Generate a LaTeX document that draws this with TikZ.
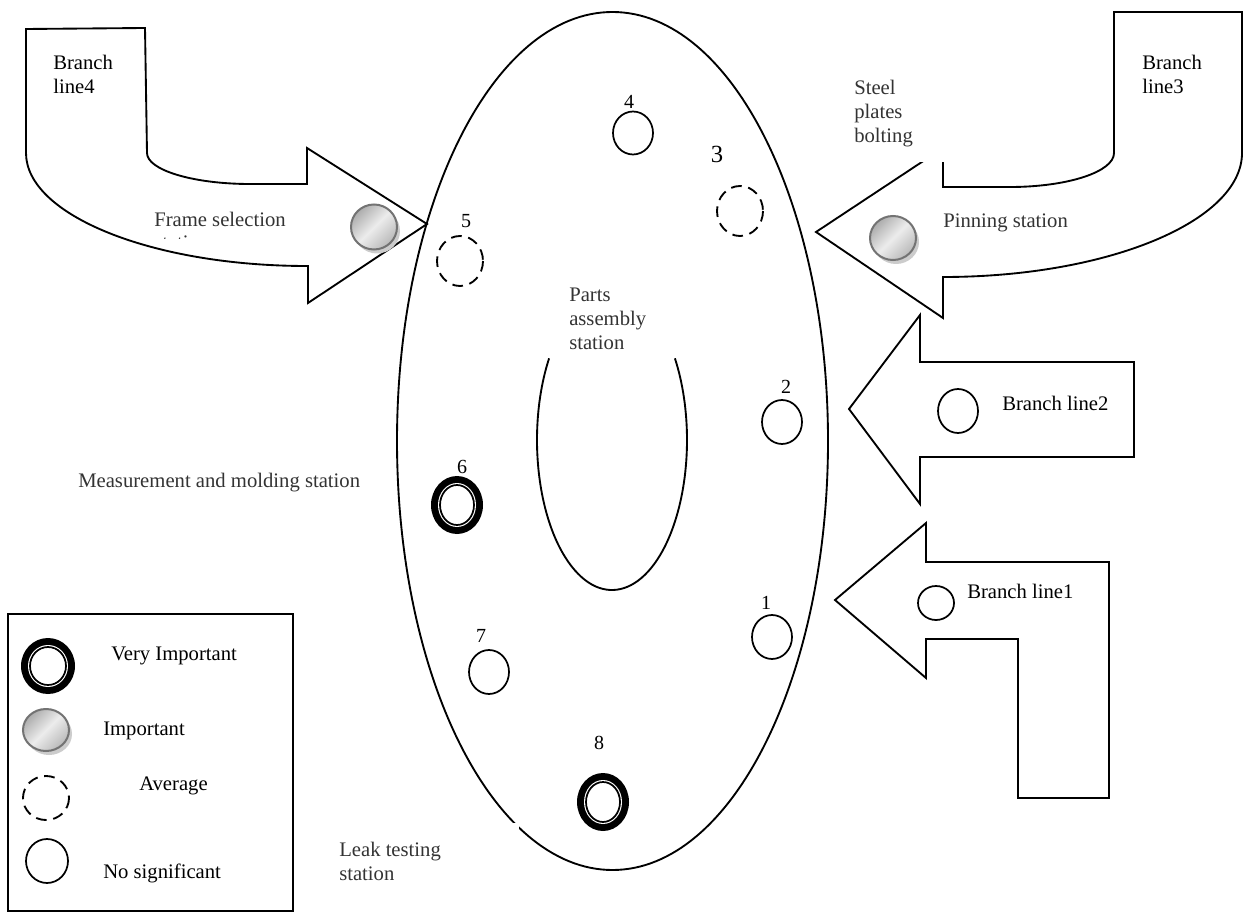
\documentclass[tikz,border=0pt]{standalone}
\usepackage{fontspec}
\setmainfont{Liberation Serif}
\usetikzlibrary{shapes.geometric}
\newcommand{\symVI}[3]{%
  \fill[black] #1 ellipse[x radius=#2, y radius=#3];
  \fill[white] #1 ellipse[x radius=#2-7, y radius=#3-7];
  \draw[line width=1.3pt] #1 ellipse[x radius=#2-9, y radius=#3-9];
}
\newcommand{\symIMP}[3]{%
  \fill[gray!40] #1 ++(3,4) ellipse[x radius=#2, y radius=#3];
  \draw[draw=black!55, line width=1.5pt, top color=gray!65, bottom color=gray!55, middle color=gray!15, shading angle=45] #1 ellipse[x radius=#2, y radius=#3];
}
\newcommand{\symAVG}[3]{\draw[avgline] #1 ellipse[x radius=#2, y radius=#3];}
\newcommand{\symNS}[3]{\draw[plainline] #1 ellipse[x radius=#2, y radius=#3];}
\begin{document}
\begin{tikzpicture}[x=0.75pt,y=-0.75pt,
  outl/.style={draw=black, line width=1.4pt, line join=miter},
  plainline/.style={draw=black, line width=1.3pt},
  avgline/.style={draw=black, line width=1.4pt, dash pattern=on 8pt off 5pt},
  lbl/.style={font=\fontsize{15.5}{18}\selectfont, inner sep=0pt, text=black},
  lblg/.style={lbl, text=black!80},
  num/.style={font=\fontsize{15}{18}\selectfont, inner sep=0pt},
]
\path[use as bounding box] (0,0) rectangle (1244,912);
\clip (0,0) rectangle (1244,912);
\fill[white] (0,0) rectangle (1244,912);

% main loop
\draw[outl] (612.5,441) ellipse [x radius=215.5, y radius=429];
\fill[white] (330,823) rectangle (519,898);
\draw[outl] (549.1,358.3) arc[start angle=213, end angle=-33, x radius=75, y radius=150];

% branch line 4
\draw[outl, fill=white] (26,29) -- (145,28) -- (147,153)
  .. controls (147,170) and (193,184) .. (250,184) -- (307,184) -- (307,148)
  -- (427,224) -- (308,303) -- (308,266) -- (307,266)
  .. controls (152,266) and (26,215) .. (26,153) -- cycle;
% branch line 3
\draw[outl, fill=white] (1114,12) -- (1242,12) -- (1242,153)
  .. controls (1242,221) and (1108,277) .. (943,277) -- (943,318) -- (816,232)
  -- (943,148) -- (943,187) -- (1010,187)
  .. controls (1067,187) and (1114,172) .. (1114,153) -- cycle;
\fill[white] (848,66) rectangle (950,162.5);
% branch line 2
\draw[outl, fill=white] (849,409) -- (920,315) -- (920,362) -- (1134,362)
  -- (1134,457) -- (920,457) -- (920,504) -- cycle;
% branch line 1
\draw[outl, fill=white] (835,600) -- (926,523) -- (926,562) -- (1109,562)
  -- (1109,798) -- (1018,798) -- (1018,639) -- (926,639) -- (926,678) -- cycle;

% legend frame
\draw[line width=1.4pt] (8,614) rectangle (293,911);

% station symbols
\symNS{(633,133)}{20}{21.5}
\symAVG{(740,211)}{23}{25}
\symAVG{(460,261)}{23}{25}
\symNS{(782,422)}{20}{22}
\symVI{(457,505)}{26}{29}
\symNS{(772,637)}{20}{22}
\symNS{(489,672)}{20}{22}
\symVI{(603,802)}{26}{29}
\symIMP{(374,227)}{23}{22.5}
\symIMP{(893,238)}{23}{22}
\symNS{(958,411)}{20}{22}
\symNS{(936,603)}{18}{17}
% legend symbols
\symVI{(48,666)}{27}{28}
\symIMP{(46,730)}{23}{21}
\symAVG{(46,798)}{23}{22}
\symNS{(47,861)}{21}{22}

% numbers
\node[num] (n4) at (629,102) {4};
\node[num, font=\fontsize{18.5}{20}\selectfont] (n3) at (717,154) {3};
\node[num] (n5) at (466,221) {5};
\node[num] (n2) at (786,387) {2};
\node[num] (n6) at (462,467) {6};
\node[num] (n1) at (766,603) {1};
\node[num] (n7) at (481,636) {7};
\node[num] (n8) at (599,743) {8};

% labels
\node[lbl, anchor=north west, align=left] (bl4) at (53,55) {Branch\\line4};
\node[lblg, anchor=west] (frame) at (154,219) {Frame selection};
\begin{scope}
  \clip (140,200) rectangle (300,238.5);
  \node[lblg, anchor=base west] (framest) at (154,250) {station};
\end{scope}
\node[lblg, anchor=north west, align=left] (steel) at (854,80) {Steel\\plates\\bolting};
\node[lbl, anchor=north west, align=left] (bl3) at (1142,55) {Branch\\line3};
\node[lblg, anchor=west] (pin) at (943,223) {Pinning station};
\node[lbl, anchor=west] (bl2) at (1002,403) {Branch line2};
\node[lbl, anchor=west] (bl1) at (967,591) {Branch line1};
\node[lblg, anchor=north west, align=left] (parts) at (569,288) {Parts\\assembly\\station};
\node[lblg, anchor=west] (meas) at (78,483) {Measurement and molding station};
\node[lblg, anchor=north west, align=left] (leak) at (339,842) {Leak testing\\station};
\node[lbl, anchor=west] (lvi) at (111,656) {Very Important};
\node[lbl, anchor=west] (limp) at (103,731) {Important};
\node[lbl, anchor=west] (lavg) at (139,786) {Average};
\node[lbl, anchor=west] (lns) at (103,873) {No significant};
\end{tikzpicture}
\end{document}
